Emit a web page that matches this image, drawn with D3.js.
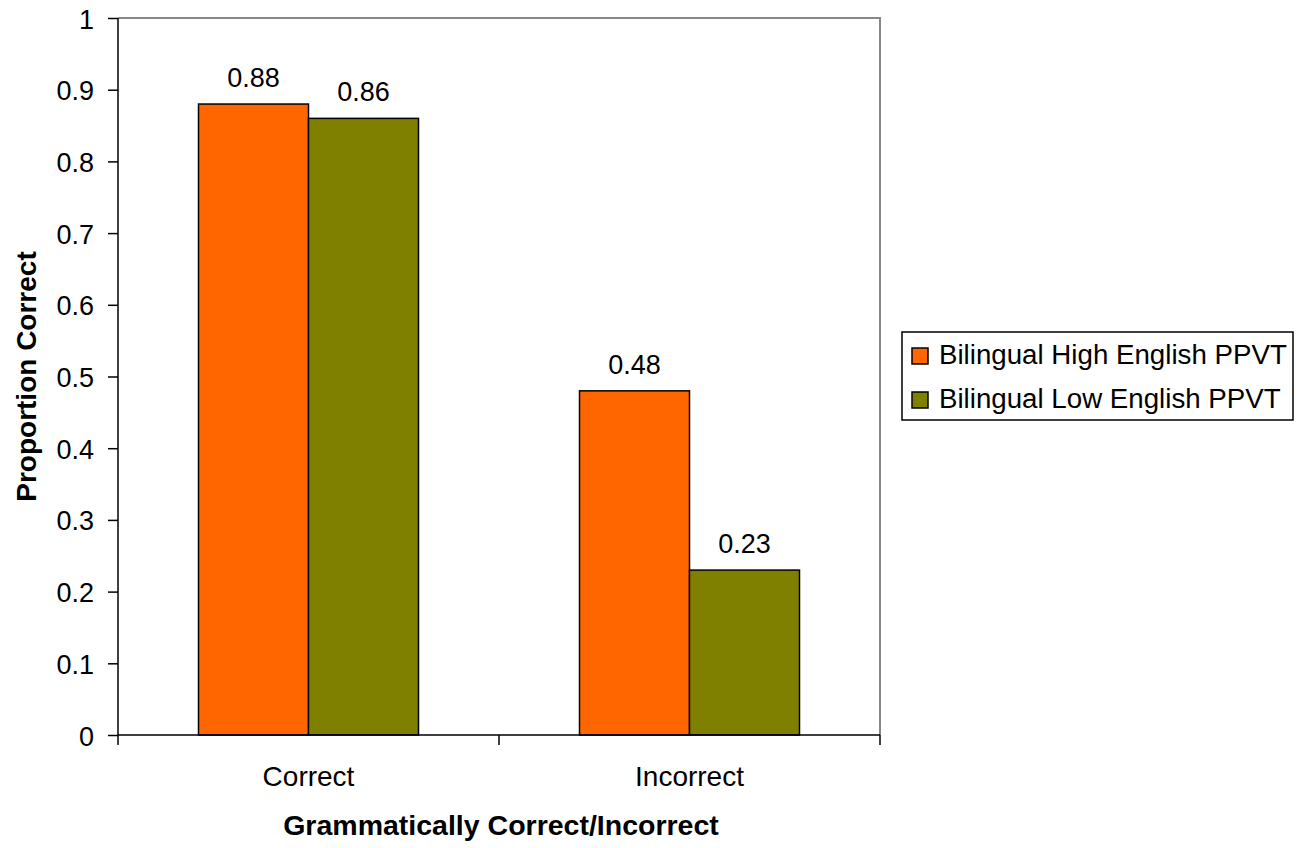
<!DOCTYPE html>
<html>
<head>
<meta charset="utf-8">
<script src="https://cdn.jsdelivr.net/npm/d3@7"></script>
<style>
  html, body { margin: 0; padding: 0; background: #fff; }
  svg { display: block; font-family: "Liberation Sans", Arial, sans-serif; }
</style>
</head>
<body>
<svg id="chart" width="1306" height="848"></svg>
<script>
// Grouped bar data
const categories = ["Correct", "Incorrect"];
const seriesNames = ["Bilingual High English PPVT", "Bilingual Low English PPVT"];
const highValues = [0.88, 0.48];
const lowValues = [0.86, 0.23];
const seriesColors = ["#FF6600", "#808000"];
const yTicks = [0, 0.1, 0.2, 0.3, 0.4, 0.5, 0.6, 0.7, 0.8, 0.9, 1];

const rows = categories.map((c, i) => ({ category: c, values: [highValues[i], lowValues[i]] }));

const FONT = "Liberation Sans, Arial, sans-serif";
const svg = d3.select("#chart");
const plot = { left: 118, top: 18, right: 880, bottom: 735 };

const x0 = d3.scaleBand().domain(categories).range([plot.left, plot.right]).paddingInner(0).paddingOuter(0);
const barW = 110;
const x1 = d3.scaleBand().domain(seriesNames).range([0, barW * 2]);
const y = d3.scaleLinear().domain([0, 1]).range([plot.bottom, plot.top]);

// plot frame: grey top/right edges
svg.append("path")
  .attr("d", `M${plot.left},${plot.top}H${plot.right}V${plot.bottom}`)
  .attr("fill", "none").attr("stroke", "#888").attr("stroke-width", 2);

// bars
const groups = svg.append("g").selectAll("g").data(rows).join("g")
  .attr("transform", d => `translate(${x0(d.category) + (x0.bandwidth() - barW * 2) / 2},0)`);

groups.selectAll("rect").data(d => d.values.map((v, i) => ({ v, i })))
  .join("rect")
  .attr("x", d => x1(seriesNames[d.i]))
  .attr("y", d => y(d.v))
  .attr("width", x1.bandwidth())
  .attr("height", d => y(0) - y(d.v))
  .attr("fill", d => seriesColors[d.i])
  .attr("stroke", "#000").attr("stroke-width", 1.5);

groups.selectAll("text").data(d => d.values.map((v, i) => ({ v, i })))
  .join("text")
  .attr("x", d => x1(seriesNames[d.i]) + x1.bandwidth() / 2)
  .attr("y", d => y(d.v) - 17)
  .attr("text-anchor", "middle")
  .attr("font-size", 27)
  .attr("fill", "#000")
  .text(d => d.v.toFixed(2));

// y axis
const yAxis = svg.append("g").attr("transform", `translate(${plot.left},0)`)
  .call(d3.axisLeft(y).tickValues(yTicks).tickSize(10).tickPadding(14).tickFormat(d => d3.format("")(+d.toFixed(1))));
yAxis.select(".domain").attr("stroke", "#000").attr("stroke-width", 1.5).attr("d", `M0,${plot.top}V${plot.bottom}`);
yAxis.selectAll(".tick line").attr("stroke", "#000").attr("stroke-width", 1.5);
yAxis.selectAll(".tick text").attr("font-size", 27).attr("fill", "#000")
  .attr("font-family", FONT).attr("dy", null).attr("y", 10);

// x axis
const xAxis = svg.append("g").attr("transform", `translate(0,${plot.bottom})`)
  .call(d3.axisBottom(x0).tickSize(0));
xAxis.select(".domain").attr("stroke", "#000").attr("stroke-width", 1.5).attr("d", `M${plot.left},0H${plot.right}`);
xAxis.selectAll(".tick text").attr("font-size", 28).attr("fill", "#000")
  .attr("font-family", FONT).attr("dy", null).attr("y", 51);
// boundary ticks between categories
const bounds = [plot.left, plot.left + x0.bandwidth(), plot.right];
xAxis.selectAll(".bound").data(bounds).join("line")
  .attr("x1", d => d).attr("x2", d => d).attr("y1", 0).attr("y2", 10)
  .attr("stroke", "#000").attr("stroke-width", 1.5);

// axis titles
svg.append("text")
  .attr("transform", `translate(36,${(plot.top + plot.bottom) / 2}) rotate(-90)`)
  .attr("text-anchor", "middle").attr("font-size", 28).attr("font-weight", "bold")
  .text("Proportion Correct");
svg.append("text")
  .attr("x", (plot.left + plot.right) / 2 + 2).attr("y", 835)
  .attr("text-anchor", "middle").attr("font-size", 28.5).attr("font-weight", "bold")
  .text("Grammatically Correct/Incorrect");

// legend
const legend = svg.append("g").attr("transform", "translate(902,332)");
legend.append("rect").attr("width", 391).attr("height", 88)
  .attr("fill", "#fff").attr("stroke", "#000").attr("stroke-width", 1.5);
const items = legend.selectAll("g").data(seriesNames).join("g")
  .attr("transform", (d, i) => `translate(10,${24 + i * 44})`);
items.append("rect").attr("x", 0).attr("y", -8).attr("width", 16).attr("height", 16)
  .attr("fill", (d, i) => seriesColors[i]).attr("stroke", "#000").attr("stroke-width", 1.5);
items.append("text").attr("x", 27).attr("y", 8).attr("font-size", 27.7).text(d => d);
</script>
</body>
</html>
